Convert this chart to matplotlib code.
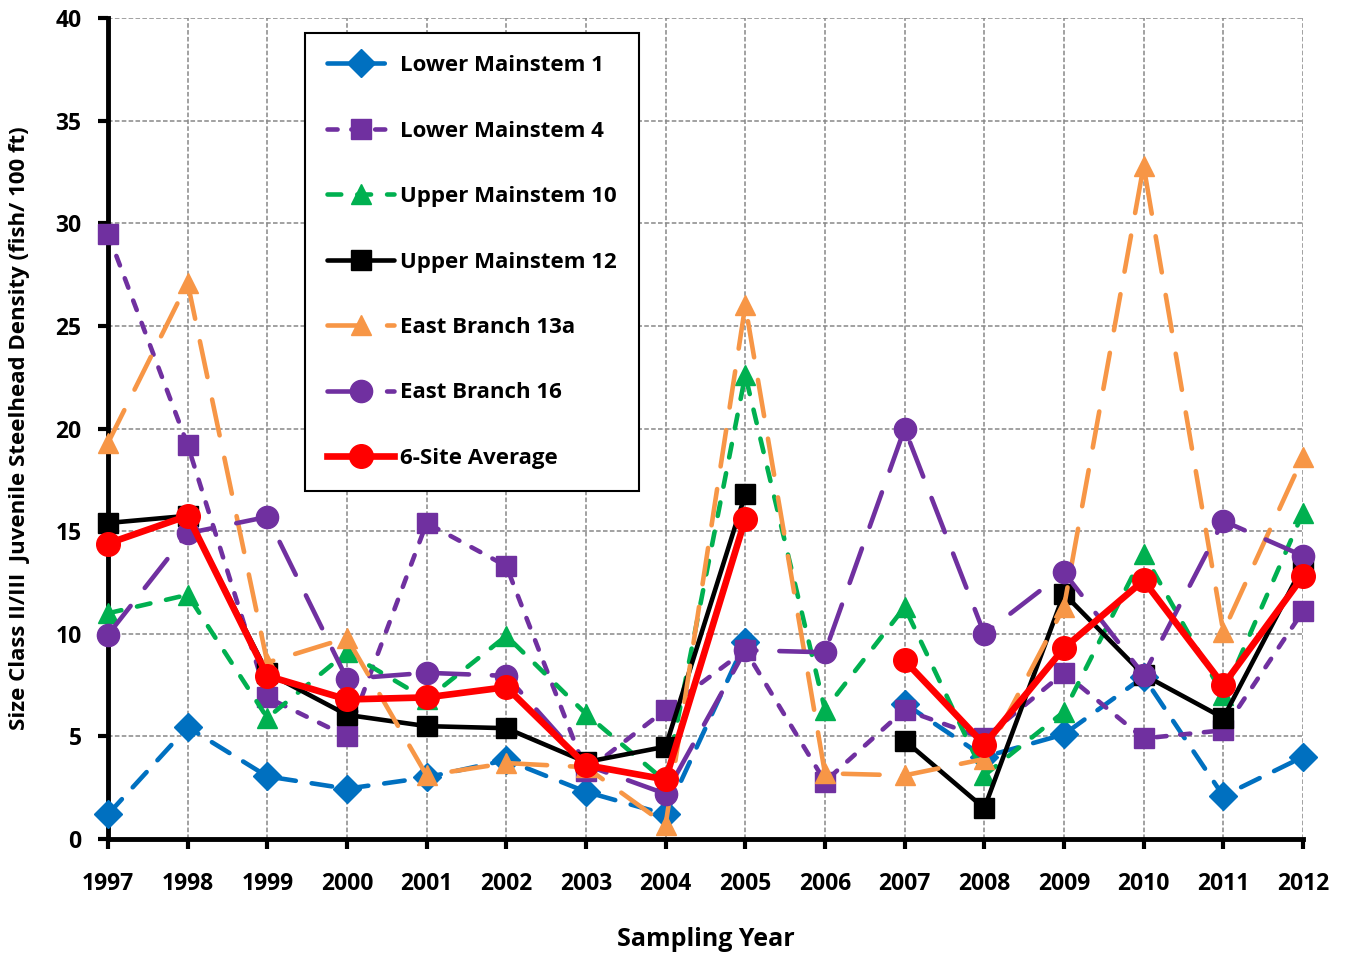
import numpy as np
import matplotlib
matplotlib.use("Agg")
import matplotlib.pyplot as plt

plt.rcParams['font.family'] = ['Open Sans', 'DejaVu Sans']

nan = np.nan
years = list(range(1997, 2013))

lower_ms1 = [1.2, 5.45, 3.05, 2.45, 3.0, 3.85, 2.3, 1.2, 9.6, nan, 6.6, 4.0, 5.1, 7.9, 2.1, 4.0]
lower_ms4 = [29.5, 19.2, 6.9, 5.0, 15.4, 13.3, 3.3, 6.3, 9.2, 2.8, 6.3, 4.9, 8.1, 4.9, 5.3, 11.1]
upper_ms10 = [11.0, 11.9, 5.9, 9.1, 6.8, 9.9, 6.1, 2.8, 22.6, 6.3, 11.3, 3.1, 6.2, 13.9, 7.0, 15.9]
upper_ms12 = [15.4, 15.75, 8.1, 6.05, 5.5, 5.4, 3.75, 4.5, 16.8, nan, 4.8, 1.5, 11.95, 8.0, 5.9, 13.3]
east_13a = [19.3, 27.1, 8.6, 9.8, 3.1, 3.7, 3.5, 0.7, 26.0, 3.2, 3.1, 3.9, 11.3, 32.8, 10.1, 18.6]
east_16 = [9.95, 14.9, 15.7, 7.8, 8.1, 7.95, 3.6, 2.2, 9.2, 9.1, 20.0, 10.0, 13.0, 8.0, 15.5, 13.8]
site_avg = [14.4, 15.75, 7.95, 6.8, 6.9, 7.4, 3.6, 2.9, 15.6, nan, 8.7, 4.6, 9.3, 12.6, 7.5, 12.8]

fig = plt.figure(figsize=(13.53, 9.57), dpi=100)
ax = fig.add_axes([0.0798, 0.1233, 0.8832, 0.8577])

series = [
    ("Lower Mainstem 1", lower_ms1, "#0070C0", "D", (0, (4.5, 3.5)), 14),
    ("Lower Mainstem 4", lower_ms4, "#7030A0", "s", (0, (2.2, 3)), 15),
    ("Upper Mainstem 10", upper_ms10, "#00B050", "^", (0, (3, 3.5)), 15),
    ("Upper Mainstem 12", upper_ms12, "black", "s", "-", 15),
    ("East Branch 13a", east_13a, "#F79646", "^", (0, (8, 5)), 15),
    ("East Branch 16", east_16, "#7030A0", "o", (0, (8, 5)), 16),
]
for label, vals, col, mk, ls, ms in series:
    ax.plot(years, vals, color=col, marker=mk, linestyle=ls, linewidth=3.3,
            markersize=ms, label=label, clip_on=False, zorder=3,
            dash_capstyle="round", solid_capstyle="round")
ax.plot(years, site_avg, color="red", marker="o", linestyle="-", linewidth=4.8,
        markersize=17, label="6-Site Average", clip_on=False, zorder=4)

ax.set_xlim(1997, 2012)
ax.set_ylim(0, 40)
ax.set_xticks(years)
ax.set_yticks(range(0, 41, 5))
ax.grid(True, color="#888888", linestyle=(0, (3, 1.5)), linewidth=1.1)
ax.set_axisbelow(True)
for s in ["top", "right"]:
    ax.spines[s].set_visible(False)
for s in ["left", "bottom"]:
    ax.spines[s].set_linewidth(3.5)
ax.tick_params(axis="both", length=7, width=3, labelsize=16.5)
ax.tick_params(axis="x", pad=17)
ax.tick_params(axis="y", pad=12)
for t in ax.get_xticklabels() + ax.get_yticklabels():
    t.set_fontweight("bold")

ax.set_xlabel("Sampling Year", fontsize=18, fontweight="bold", labelpad=22)
ax.set_ylabel("Size Class II/III  Juvenile Steelhead Density (fish/ 100 ft)",
              fontsize=16, fontweight="bold", labelpad=18)

leg = ax.legend(loc="upper left", bbox_to_anchor=(0.165, 0.982), borderaxespad=0,
                prop={"weight": "bold", "size": 16}, frameon=True, fancybox=False,
                edgecolor="black", handlelength=3.0, labelspacing=2.0,
                borderpad=1.0, handletextpad=0.25, framealpha=1)
leg.get_frame().set_linewidth(1.5)

fig.savefig("out.png", dpi=100)
